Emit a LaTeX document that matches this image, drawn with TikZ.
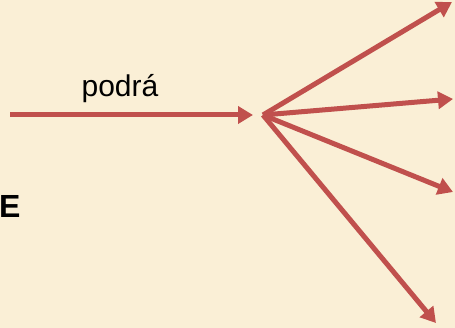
\documentclass[tikz,border=0pt]{standalone}
\usepackage{fontspec}
\setmainfont{Liberation Sans}
\usetikzlibrary{arrows.meta}
\definecolor{parchment}{RGB}{250, 239, 214}
\definecolor{arrowred}{RGB}{192, 80, 77}

\begin{document}
\begin{tikzpicture}[
    x=1pt, y=-1pt,
    flow/.style={draw=arrowred, line width=5pt, -{Triangle[length=15pt, width=17pt]}},
    wordlabel/.style={font=\fontsize{30}{34}\selectfont, inner sep=0pt}
]

% Background
\fill[parchment] (0,0) rectangle (455,328);
\useasboundingbox (0,0) rectangle (455,328);

% Points
\coordinate (src) at (10,115);
\coordinate (hub) at (263,115);
\coordinate (t1) at (452,2);
\coordinate (t2) at (453,99);
\coordinate (t3) at (453,192);
\coordinate (t4) at (436,323);

% Main arrow
\draw[flow, shorten >=10pt] (src) -- (hub);
\node[wordlabel, anchor=base] (verb) at (120,97) {podrá};

% Fan of arrows
\foreach \t in {t1, t2, t3, t4} {
    \draw[flow] (hub) -- (\t);
}

% Cut-off word
\node[font=\bfseries\fontsize{32}{36}\selectfont, inner sep=0pt, anchor=base west] (cutword) at (-1,218) {E};

\end{tikzpicture}
\end{document}
